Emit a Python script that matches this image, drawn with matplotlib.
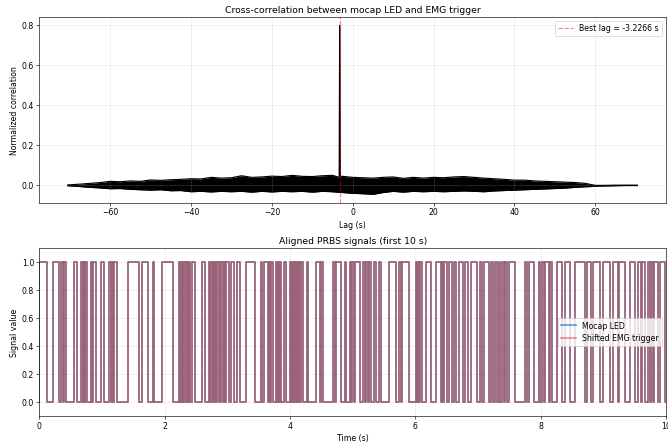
import numpy as np
import matplotlib
matplotlib.use("Agg")
import matplotlib.pyplot as plt

# Cross-correlation envelope (upper / lower edge of the noise band)
lags = [-70.5, -67.5, -65, -62.5, -60, -57.5, -55, -52.5, -50, -47.5, -45, -42.5,
        -40, -37.5, -35, -32.5, -30, -27.5, -25, -22.5, -20, -17.5, -15, -12.5,
        -10, -7.5, -5, -3.35, -3.2266, -3.1, -2.5, 0, 2.5, 5, 7.5, 10, 12.5, 15,
        17.5, 20, 22.5, 25, 27.5, 30, 32.5, 35, 37.5, 40, 42.5, 45, 47.5, 50,
        52.5, 55, 57.5, 59, 60, 62.5, 65, 67.5, 70.4]
corr_upper = [0.002, 0.006, 0.010, 0.014, 0.020, 0.018, 0.022, 0.020, 0.027, 0.025,
              0.028, 0.030, 0.033, 0.032, 0.040, 0.036, 0.038, 0.048, 0.040, 0.042,
              0.046, 0.044, 0.050, 0.045, 0.044, 0.048, 0.050, 0.040, 0.800, 0.045,
              0.045, 0.040, 0.038, 0.036, 0.040, 0.042, 0.035, 0.040, 0.036, 0.040,
              0.038, 0.042, 0.044, 0.040, 0.036, 0.033, 0.030, 0.026, 0.026, 0.022,
              0.020, 0.018, 0.016, 0.014, 0.010, 0.004, 0.000, 0.000, 0.001, 0.001,
              0.001]
corr_lower = [-0.002, -0.006, -0.010, -0.013, -0.017, -0.016, -0.020, -0.022, -0.024,
              -0.022, -0.027, -0.026, -0.032, -0.030, -0.033, -0.030, -0.032, -0.030,
              -0.034, -0.030, -0.033, -0.030, -0.032, -0.030, -0.034, -0.030, -0.032,
              -0.035, -0.030, -0.035, -0.036, -0.040, -0.042, -0.045, -0.036, -0.030,
              -0.034, -0.030, -0.032, -0.030, -0.032, -0.030, -0.028, -0.030, -0.032,
              -0.028, -0.026, -0.024, -0.022, -0.020, -0.018, -0.016, -0.014, -0.010,
              -0.007, -0.006, -0.004, -0.003, -0.002, -0.001, -0.001]
best_lag = -3.2266

# PRBS high intervals in the first 10 s (start, end)
high_starts = [0.0, 0.224, 0.351, 0.394, 0.554, 0.671, 0.700, 0.735, 0.820, 0.848,
               0.980, 1.113, 1.165, 1.195, 1.406, 1.645, 1.816, 1.950, 2.220, 2.260,
               2.290, 2.320, 2.360, 2.380, 2.430, 2.593, 2.700, 2.730, 2.770, 2.800,
               2.830, 2.875, 2.900, 2.945, 2.970, 3.050, 3.150, 3.290, 3.541, 3.585,
               3.665, 3.700, 3.770, 3.800, 3.840, 3.900, 4.000, 4.030, 4.060, 4.095,
               4.120, 4.150, 4.175, 4.265, 4.420, 4.500, 4.686, 4.740, 4.872, 4.952,
               4.990, 5.035, 5.165, 5.215, 5.255, 5.340, 5.420, 5.580, 5.740, 5.793,
               6.006, 6.045, 6.080, 6.166, 6.326, 6.425, 6.459, 6.539, 6.610, 6.698,
               6.794, 6.890, 7.034, 7.103, 7.210, 7.274, 7.327, 7.380, 7.434, 7.487,
               7.753, 7.806, 7.966, 8.020, 8.073, 8.153, 8.259, 8.392, 8.541, 8.744,
               8.834, 8.994, 9.153, 9.250, 9.420, 9.553, 9.615, 9.712, 9.760, 9.810,
               9.899]
high_ends = [0.128, 0.314, 0.383, 0.421, 0.596, 0.690, 0.725, 0.756, 0.835, 0.900,
             1.033, 1.150, 1.180, 1.246, 1.592, 1.736, 1.832, 2.130, 2.250, 2.280,
             2.310, 2.350, 2.370, 2.410, 2.487, 2.646, 2.720, 2.760, 2.790, 2.820,
             2.860, 2.890, 2.930, 2.960, 3.020, 3.110, 3.205, 3.434, 3.560, 3.647,
             3.685, 3.727, 3.790, 3.830, 3.860, 3.940, 4.020, 4.050, 4.085, 4.110,
             4.140, 4.165, 4.206, 4.290, 4.473, 4.525, 4.720, 4.820, 4.900, 4.975,
             5.020, 5.112, 5.200, 5.240, 5.288, 5.367, 5.447, 5.687, 5.767, 5.900,
             6.033, 6.060, 6.113, 6.246, 6.406, 6.440, 6.512, 6.592, 6.645, 6.765,
             6.848, 6.981, 7.061, 7.178, 7.247, 7.300, 7.354, 7.407, 7.460, 7.583,
             7.780, 7.886, 7.993, 8.046, 8.140, 8.179, 8.339, 8.461, 8.701, 8.807,
             8.941, 9.100, 9.233, 9.340, 9.500, 9.595, 9.659, 9.739, 9.792, 9.872,
             9.979]


def to_steps(starts, ends, t_end=10.0):
    t, y = [], []
    for s, e in zip(starts, ends):
        t += [s, s, e, e]
        y += [0, 1, 1, 0]
    t.append(t_end)
    y.append(0)
    return np.array(t), np.array(y)


t_sig, y_sig = to_steps(high_starts, high_ends)

fig = plt.figure(figsize=(12, 8), dpi=668 / 12)
ax1 = fig.add_axes([0.059, 0.544, 0.938, 0.417])
ax2 = fig.add_axes([0.059, 0.065, 0.938, 0.377])

# Cross-correlation
ax1.fill_between(lags, corr_lower, corr_upper, color="k", linewidth=0)
ax1.plot(lags, corr_upper, color="k", linewidth=1.5)
ax1.plot(lags, corr_lower, color="k", linewidth=1.5)
ax1.axvline(best_lag, color="r", linestyle="--", alpha=0.5,
            label=f"Best lag = {best_lag:.4f} s")
ax1.set_title("Cross-correlation between mocap LED and EMG trigger")
ax1.set_xlabel("Lag (s)")
ax1.set_ylabel("Normalized correlation")
ax1.set_ylim(-0.087, 0.842)
ax1.set_xlim(-77.5, 77.5)
ax1.legend(loc="upper right")
ax1.grid(True, alpha=0.3)

# Aligned signals
ax2.plot(t_sig, y_sig, color="C0", alpha=0.7, linewidth=2.2, label="Mocap LED")
ax2.plot(t_sig, y_sig, color="C3", alpha=0.5, linewidth=2.2, label="Shifted EMG trigger")
ax2.set_xlim(0, 10)
ax2.set_ylim(-0.1, 1.1)
ax2.set_title("Aligned PRBS signals (first 10 s)")
ax2.set_xlabel("Time (s)")
ax2.set_ylabel("Signal value")
ax2.legend(loc="center right")
ax2.grid(True, alpha=0.3)

fig.savefig("out.png", dpi=668 / 12)
